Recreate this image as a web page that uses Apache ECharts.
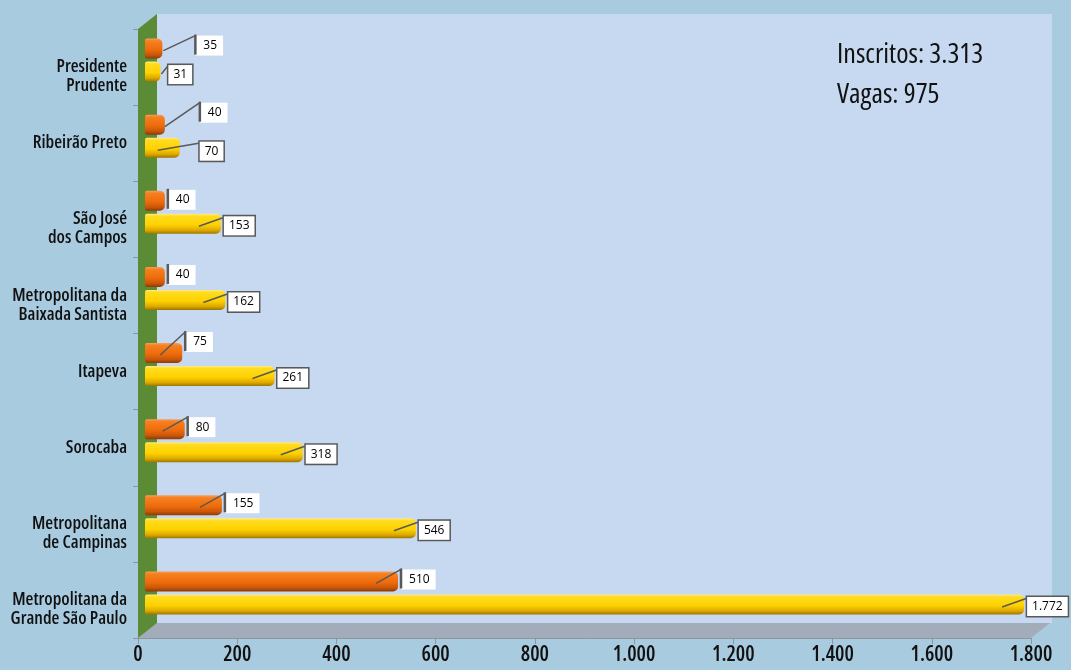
<!DOCTYPE html>
<html>
<head>
<meta charset="utf-8">
<script src="https://cdn.jsdelivr.net/npm/echarts@6/dist/echarts.min.js"></script>
<style>
html,body{margin:0;padding:0;background:#a9cbe0;}
#c{width:1071px;height:670px;}
</style>
</head>
<body>
<div id="c"></div>
<script>
// ---- data ----
const categories = [
  'Metropolitana da\nGrande São Paulo',
  'Metropolitana\nde Campinas',
  'Sorocaba',
  'Itapeva',
  'Metropolitana da\nBaixada Santista',
  'São José\ndos Campos',
  'Ribeirão Preto',
  'Presidente\nPrudente'
];
const inscritos = [1772, 546, 318, 261, 162, 153, 70, 31];
const vagas = [510, 155, 80, 75, 40, 40, 40, 35];
const xTickLabels = ['0', '200', '400', '600', '800', '1.000', '1.200', '1.400', '1.600', '1.800'];
const totalsText = ['Inscritos: 3.313', 'Vagas: 975'];

// ---- label layout tweaks (by category index) ----
const vagasLabelLayout = {
  7: {dx: 30, dy: -1, sx: 1},
  6: {dx: 32, dy: -10, sx: 0},
  5: {dx: 0, dy: 1, sx: null},
  4: {dx: 0, dy: 0, sx: null},
  3: {dx: 0, dy: -9, sx: -22},
  2: {dx: 0, dy: 0, sx: -22}
};
const inscritosLabelLayout = {
  7: {dx: 5, dy: 1, sx: 1},
  6: {dx: 17, dy: 1.5, sx: -22}
};

const FAMILY = '"Open Sans"';
const COND = '600 condensed';
const LABEL_FONT = '12px "Open Sans","Noto Sans",sans-serif';

function fmt(v) { return String(v).replace(/\B(?=(\d{3})+(?!\d))/g, '.'); }

const G0 = {left: 138, right: 40, top: 29, bottom: 32};   // visible axes (front plane)
const G1 = {left: 145, right: 33, top: 22, bottom: 39};   // bars (3D offset)
const DEPTH = [19, -15];
const BAR_W = 20, BAR_GAP = 3;
const half = (BAR_W + BAR_GAP) / 2;

const W = 1071, H = 670;
const x0 = G0.left, x1 = W - G0.right, yT = G0.top, yB = H - G0.bottom;

function grad(stops) {
  return new echarts.graphic.LinearGradient(0, 0, 0, 1, stops.map((c) => ({offset: c[0], color: c[1]})));
}
const orangeGrad = grad([[0, '#f3a060'], [0.12, '#f7801f'], [0.55, '#ee6b0b'], [0.82, '#c9560a'], [1, '#8c3a04']]);
const yellowGrad = grad([[0, '#ffe98a'], [0.12, '#ffdc1e'], [0.55, '#ffd200'], [0.82, '#deaa00'], [1, '#9c7600']]);

function leaderRender(isVagas) {
  return function (params, api) {
    const v = api.value(0), i = api.value(1);
    const p = api.coord([v, i]);
    const c = p[1] + (isVagas ? -half : half);
    const lay = (isVagas ? vagasLabelLayout : inscritosLabelLayout)[i] || {dx: 0, dy: 0, sx: -22};
    const lx = p[0] + 3 + lay.dx;
    const children = [];
    if (isVagas) {
      const lc = c - 2 + lay.dy;
      const top = lc - 11, bot = lc + 11;
      if (lay.sx !== null) {
        children.push({type: 'polyline', shape: {points: [[p[0] + lay.sx, c + 2], [lx, top + 1]]},
          style: {stroke: '#595959', lineWidth: 1.5, fill: null}});
      }
      children.push({type: 'text', style: {text: fmt(v), x: lx, y: lc, font: LABEL_FONT, fill: '#000',
        align: 'left', verticalAlign: 'middle', backgroundColor: '#fff', padding: [4, 6, 4, 8]}});
      children.push({type: 'line', shape: {x1: lx, y1: top, x2: lx, y2: bot - 2},
        style: {stroke: '#595959', lineWidth: 2.5}});
    } else {
      const lc = c + 2 + lay.dy;
      children.push({type: 'polyline', shape: {points: [[p[0] + lay.sx, c + 2.5], [lx - 1, lc - 8]]},
        style: {stroke: '#595959', lineWidth: 1.5, fill: null}});
      children.push({type: 'text', style: {text: fmt(v), x: lx, y: lc, font: LABEL_FONT, fill: '#000',
        align: 'left', verticalAlign: 'middle', backgroundColor: '#fff', borderColor: '#595959',
        borderWidth: 1.5, padding: [4, 5, 3, 5]}});
    }
    return {type: 'group', children: children};
  };
}

const chart = echarts.init(document.getElementById('c'), null, {renderer: 'canvas'});
chart.setOption({
  backgroundColor: '#a9cbe0',
  animation: false,
  grid: [
    {left: G0.left, right: G0.right, top: G0.top, bottom: G0.bottom, containLabel: false, outerBoundsMode: 'none'},
    {left: G1.left, right: G1.right, top: G1.top, bottom: G1.bottom, containLabel: false, outerBoundsMode: 'none'}
  ],
  xAxis: [
    {type: 'value', gridIndex: 0, min: 0, max: 1800, interval: 200,
      axisLine: {show: true, lineStyle: {color: '#8c96a3', width: 1}},
      axisTick: {show: true, length: 6, lineStyle: {color: '#8c96a3'}},
      splitLine: {show: false},
      axisLabel: {color: '#111', fontFamily: FAMILY, fontWeight: COND, fontSize: 21, margin: 7,
        formatter: (val) => xTickLabels[Math.round(val / 200)]}},
    {type: 'value', gridIndex: 1, min: 0, max: 1800, show: false, splitLine: {show: false}}
  ],
  yAxis: [
    {type: 'category', gridIndex: 0, data: categories,
      axisLine: {show: false},
      axisTick: {show: true, length: 5, alignWithLabel: false, lineStyle: {color: '#8c96a3'}},
      axisLabel: {color: '#111', fontFamily: FAMILY, fontWeight: COND, fontSize: 18, lineHeight: 19, margin: 11,
        formatter: (v) => v.indexOf('\n') >= 0 ? '\n' + v : v}},
    {type: 'category', gridIndex: 1, data: categories, show: false}
  ],
  graphic: [
    {type: 'rect', z: -1, shape: {x: x0 + DEPTH[0], y: yT + DEPTH[1], width: x1 - x0 + 2, height: yB - yT}, style: {fill: '#c6d9f0'}},
    {type: 'polygon', z: -1, shape: {points: [[x0, yB], [x1, yB], [x1 + DEPTH[0], yB + DEPTH[1]], [x0 + DEPTH[0], yB + DEPTH[1]]]}, style: {fill: '#a3acba'}},
    {type: 'polygon', z: -1, shape: {points: [[x0, yT], [x0 + DEPTH[0], yT + DEPTH[1]], [x0 + DEPTH[0], yB + DEPTH[1]], [x0, yB]]}, style: {fill: '#5b8b34'}},
    {type: 'text', z: 5, style: {text: totalsText[0], x: 837, y: 55, font: '500 condensed 28px ' + FAMILY, fill: '#111', verticalAlign: 'middle'}},
    {type: 'text', z: 5, style: {text: totalsText[1], x: 837, y: 95, font: '500 condensed 28px ' + FAMILY, fill: '#111', verticalAlign: 'middle'}}
  ],
  series: [
    {name: 'Vagas', type: 'bar', xAxisIndex: 1, yAxisIndex: 1, data: vagas, barWidth: BAR_W, barGap: (BAR_GAP / BAR_W * 100) + '%',
      itemStyle: {color: orangeGrad, borderRadius: [2, 5, 5, 2]}, z: 3},
    {name: 'Inscritos', type: 'bar', xAxisIndex: 1, yAxisIndex: 1, data: inscritos, barWidth: BAR_W,
      itemStyle: {color: yellowGrad, borderRadius: [2, 5, 5, 2]}, z: 3},
    {type: 'custom', xAxisIndex: 1, yAxisIndex: 1, data: vagas.map((v, i) => [v, i]), renderItem: leaderRender(true), z: 6, clip: false},
    {type: 'custom', xAxisIndex: 1, yAxisIndex: 1, data: inscritos.map((v, i) => [v, i]), renderItem: leaderRender(false), z: 6, clip: false}
  ]
});
</script>
</body>
</html>
